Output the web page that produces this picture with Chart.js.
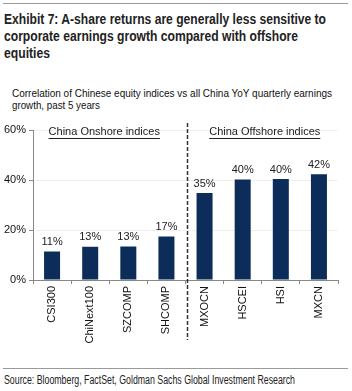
<!DOCTYPE html>
<html>
<head>
<meta charset="utf-8">
<script src="https://cdn.jsdelivr.net/npm/chart.js@4.4.0/dist/chart.umd.min.js"></script>
<style>
  body { margin: 0; background: #fff; }
  #page { position: relative; width: 352px; height: 391px; overflow: hidden; font-family: 'Liberation Sans', Arial, sans-serif; color: #111; }
  .rule { position: absolute; left: 3px; width: 345px; height: 1px; background: #9a9a9a; }
  .linha { position: absolute; white-space: nowrap; transform-origin: 0 0; }
  .tit { left: 4px; font-weight: bold; font-size: 14.5px; color: #222; }
  .sub { left: 12px; font-size: 11px; color: #111; }
  #chartBox { position: absolute; left: 0; top: 110px; width: 352px; height: 240px; }
  .src { left: 4px; font-size: 12px; color: #222; }
</style>
</head>
<body>
<div id="page">
  <div class="rule" style="top:3px"></div>
  <div class="linha tit" style="top:11px" data-w="322">Exhibit 7: A-share returns are generally less sensitive to</div>
  <div class="linha tit" style="top:28px" data-w="294">corporate earnings growth compared with offshore</div>
  <div class="linha tit" style="top:45px" data-w="46">equities</div>
  <div class="linha sub" style="top:87px" data-w="320">Correlation of Chinese equity indices vs all China YoY quarterly earnings</div>
  <div class="linha sub" style="top:99px" data-w="88">growth, past 5 years</div>
  <div id="chartBox"><canvas id="grafico" width="352" height="240"></canvas></div>
  <div class="rule" style="top:368px"></div>
  <div class="linha src" style="top:373px" data-w="291">Source: Bloomberg, FactSet, Goldman Sachs Global Investment Research</div>
</div>
<script>
// ajusta a largura das linhas de texto (fonte estreita nao esta instalada)
document.querySelectorAll('.linha').forEach(el => {
    const alvo = parseFloat(el.dataset.w);
    const w = el.getBoundingClientRect().width;
    el.style.transform = `scaleX(${alvo / w})`;
});

const indices = ['CSI300', 'ChiNext100', 'SZCOMP', 'SHCOMP', 'MXOCN', 'HSCEI', 'HSI', 'MXCN'];
const correlacao = [11.4, 13.3, 13.4, 17.4, 34.8, 40.2, 40.4, 42.3];
const grupos = ['China Onshore indices', 'China Offshore indices'];
const qtdOnshore = 4;
const yTicks = [0, 20, 40, 60];

const corBarra = '#0c2d5a';

// rotulos em cima das barras + titulos dos grupos + linha tracejada
const extras = {
    id: 'extras',
    afterDatasetsDraw(chart) {
        const ctx = chart.ctx;
        const meta = chart.getDatasetMeta(0);
        ctx.save();
        ctx.font = '11px "Liberation Sans", Arial, sans-serif';
        ctx.fillStyle = '#222';
        ctx.textAlign = 'center';
        ctx.textBaseline = 'bottom';
        meta.data.forEach((bar, i) => {
            ctx.fillText(Math.round(correlacao[i]) + '%', bar.x, bar.y - 4);
        });

        const x = chart.scales.x;
        const area = chart.chartArea;
        const divisa = (x.getPixelForValue(qtdOnshore - 1) + x.getPixelForValue(qtdOnshore)) / 2 + 2;

        ctx.strokeStyle = '#333';
        ctx.lineWidth = 1.5;
        ctx.setLineDash([4, 2]);
        ctx.beginPath();
        ctx.moveTo(divisa, area.top - 7);
        ctx.lineTo(divisa, area.bottom + 60);
        ctx.stroke();
        ctx.setLineDash([]);

        const centros = [
            (area.left + divisa) / 2 - 6,
            (divisa + area.right) / 2 + 2
        ];
        ctx.textBaseline = 'middle';
        ctx.lineWidth = 1;
        ctx.strokeStyle = '#222';
        grupos.forEach((g, i) => {
            const w = ctx.measureText(g).width;
            const y = area.top + 2;
            ctx.fillText(g, centros[i], y);
            ctx.beginPath();
            ctx.moveTo(centros[i] - w / 2, y + 6.5);
            ctx.lineTo(centros[i] + w / 2, y + 6.5);
            ctx.stroke();
        });
        ctx.restore();
    }
};

new Chart(document.getElementById('grafico'), {
    type: 'bar',
    data: {
        labels: indices,
        datasets: [{
            data: correlacao,
            backgroundColor: corBarra,
            barPercentage: 0.42,
            categoryPercentage: 1
        }]
    },
    options: {
        responsive: false,
        animation: false,
        layout: { padding: { top: 20, right: 14, left: 0, bottom: 0 } },
        plugins: { legend: { display: false }, tooltip: { enabled: false } },
        scales: {
            x: {
                afterFit(scale) { scale.height = 70; },
                grid: { offset: true, drawOnChartArea: false, drawTicks: true, tickLength: 4, tickColor: '#888' },
                border: { color: '#888' },
                ticks: {
                    minRotation: 90, maxRotation: 90, padding: 2,
                    color: '#111', font: { size: 11, family: '"Liberation Sans", Arial, sans-serif' }
                }
            },
            y: {
                min: 0, max: 60,
                afterFit(scale) { scale.width = 33; },
                afterBuildTicks(scale) { scale.ticks = yTicks.map(v => ({ value: v })); },
                grid: { color: '#efefef', tickLength: 4, tickColor: '#888' },
                border: { color: '#888' },
                ticks: {
                    padding: 3,
                    color: '#111', font: { size: 11, family: '"Liberation Sans", Arial, sans-serif' },
                    callback: v => v + '%'
                }
            }
        }
    },
    plugins: [extras]
});
</script>
</body>
</html>
